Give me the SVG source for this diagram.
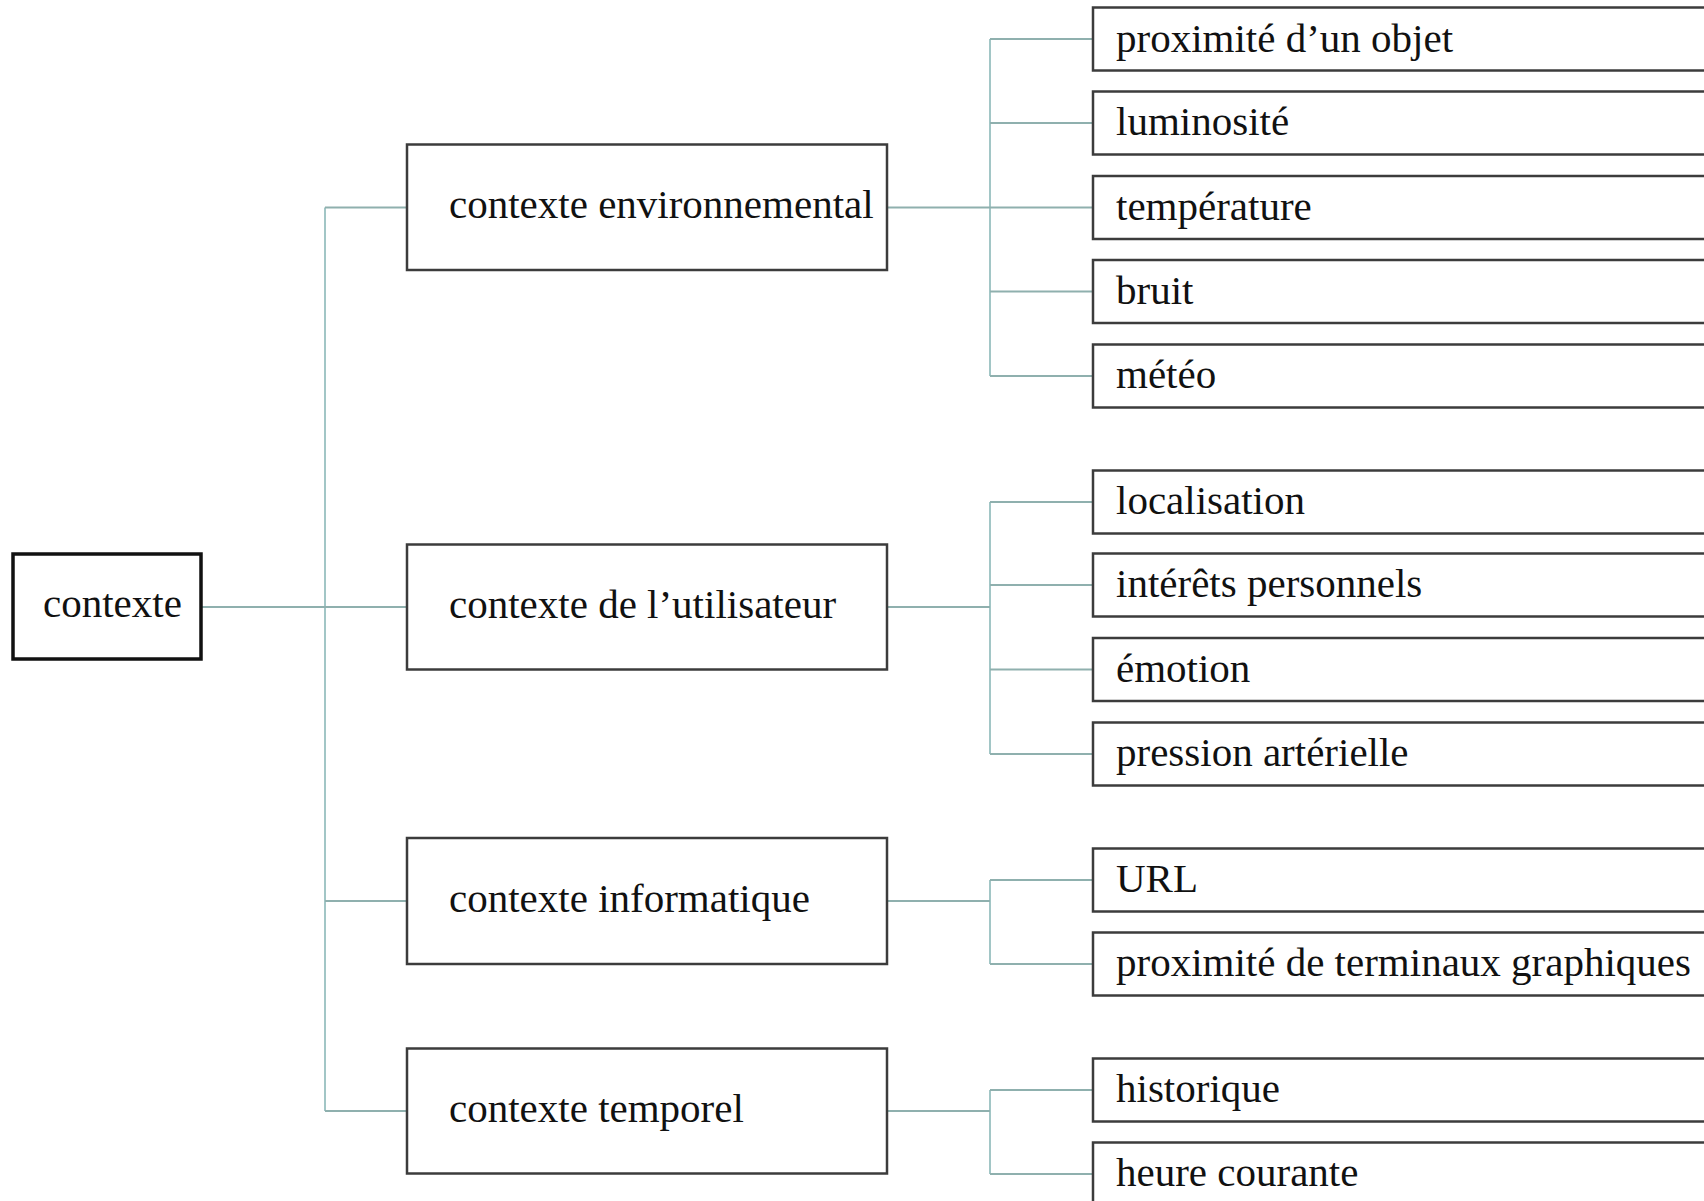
<svg xmlns="http://www.w3.org/2000/svg" width="1704" height="1201" viewBox="0 0 1704 1201">
<style>
text{font-family:"Liberation Serif","Times New Roman",serif;font-size:41px;fill:#111}
.box{fill:#fff;stroke:#3c3c3c;stroke-width:2.5}
.root{fill:#fff;stroke:#111;stroke-width:3.5}
.c{fill:none;stroke:#a2c6c6;stroke-width:2}
.h{fill:none;stroke:#8fb0ae;stroke-width:2}
</style>
<rect width="1704" height="1201" fill="#fff"/>
<g id="connectors">
<path class="c" d="M325 207.5V1111"/>
<path class="h" d="M201 607H407M325 207.5H407M325 901H407M325 1111H407"/>
<path class="c" d="M990 39V376M990 502V754M990 880V964M990 1090V1174"/>
<path class="h" d="M887 207.5H1093M990 39H1093M990 123H1093M990 291.5H1093M990 376H1093"/>
<path class="h" d="M887 607H990M990 502H1093M990 585H1093M990 669.5H1093M990 754H1093"/>
<path class="h" d="M887 901H990M990 880H1093M990 964H1093"/>
<path class="h" d="M887 1111H990M990 1090H1093M990 1174H1093"/>
</g>
<g id="n-contexte"><rect class="root" x="13" y="554" width="188" height="105"/><text x="43" y="617">contexte</text></g>
<g id="n-env"><rect class="box" x="407" y="144.5" width="480" height="125.5"/><text x="449" y="218">contexte environnemental</text></g>
<g id="n-user"><rect class="box" x="407" y="544.5" width="480" height="125"/><text x="449" y="618">contexte de l’utilisateur</text></g>
<g id="n-info"><rect class="box" x="407" y="838" width="480" height="126"/><text x="449" y="912">contexte informatique</text></g>
<g id="n-temp"><rect class="box" x="407" y="1048.5" width="480" height="125"/><text x="449" y="1122">contexte temporel</text></g>
<g id="n-proxobj"><rect class="box" x="1093" y="7.5" width="640" height="63"/><text x="1116" y="52">proximité d’un objet</text></g>
<g id="n-lum"><rect class="box" x="1093" y="91.5" width="640" height="63"/><text x="1116" y="135">luminosité</text></g>
<g id="n-temp2"><rect class="box" x="1093" y="176" width="640" height="63"/><text x="1116" y="219.5">température</text></g>
<g id="n-bruit"><rect class="box" x="1093" y="260" width="640" height="63"/><text x="1116" y="303.5">bruit</text></g>
<g id="n-meteo"><rect class="box" x="1093" y="344.5" width="640" height="63"/><text x="1116" y="388">météo</text></g>
<g id="n-loc"><rect class="box" x="1093" y="470.5" width="640" height="63"/><text x="1116" y="514">localisation</text></g>
<g id="n-int"><rect class="box" x="1093" y="553.5" width="640" height="63"/><text x="1116" y="597">intérêts personnels</text></g>
<g id="n-emo"><rect class="box" x="1093" y="638" width="640" height="63"/><text x="1116" y="681.5">émotion</text></g>
<g id="n-press"><rect class="box" x="1093" y="722.5" width="640" height="63"/><text x="1116" y="766">pression artérielle</text></g>
<g id="n-url"><rect class="box" x="1093" y="848.5" width="640" height="63"/><text x="1116" y="892">URL</text></g>
<g id="n-proxterm"><rect class="box" x="1093" y="932.5" width="640" height="63"/><text x="1116" y="976">proximité de terminaux graphiques</text></g>
<g id="n-hist"><rect class="box" x="1093" y="1058.5" width="640" height="63"/><text x="1116" y="1102">historique</text></g>
<g id="n-heure"><rect class="box" x="1093" y="1142.5" width="640" height="63"/><text x="1116" y="1186">heure courante</text></g>
</svg>
